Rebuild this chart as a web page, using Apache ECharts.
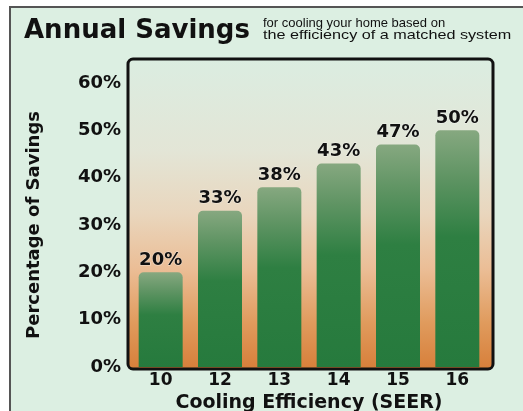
<!DOCTYPE html>
<html>
<head>
<meta charset="utf-8">
<script src="https://cdn.jsdelivr.net/npm/echarts@6/dist/echarts.min.js"></script>
<style>html,body{margin:0;padding:0;background:#fff;}#c{width:523px;height:411px;}</style>
</head>
<body>
<div id="c"></div>
<script>
const seerCategories = ['10', '12', '13', '14', '15', '16'];
const savingsPercent = [20, 33, 38, 43, 47, 50];
const yMin = 0, yMax = 60, yStep = 10;
const titleText = 'Annual Savings';
const subtitleLines = ['for cooling your home based on', 'the efficiency of a matched system'];
const xName = 'Cooling Efficiency (SEER)';
const yName = 'Percentage of Savings';

const F = 'DejaVu Sans';
const chart = echarts.init(document.getElementById('c'), null, {renderer: 'canvas'});
chart.setOption({
  animation: false,
  backgroundColor: '#ffffff',
  title: [
    {text: titleText, left: 19, top: 13,
     textStyle: {fontFamily: F, fontWeight: 'bold', fontSize: 26, color: '#111'}}
  ],
  graphic: [
    {type: 'rect', z: -20, shape: {x: 10, y: 7, width: 530, height: 420},
     style: {fill: '#dcefe2', stroke: '#555', lineWidth: 2}},
    {type: 'text', z: 50, x: 263, y: 23.5,
     style: {text: subtitleLines[0], font: '13px "Liberation Sans"', fill: '#111', align: 'left', verticalAlign: 'middle'}},
    {type: 'text', z: 50, x: 263, y: 35, scaleX: 1.2,
     style: {text: subtitleLines[1], font: '13.5px "Liberation Sans"', fill: '#111', align: 'left', verticalAlign: 'middle'}},
    {type: 'rect', z: -10, shape: {x: 128, y: 59, width: 365, height: 310, r: 5},
     style: {fill: new echarts.graphic.LinearGradient(0, 0, 0, 1, [
       {offset: 0, color: '#dbede1'},
       {offset: 0.3, color: '#e3e5d6'},
       {offset: 0.5, color: '#e9d6bd'},
       {offset: 0.68, color: '#ebbd95'},
       {offset: 0.85, color: '#e09b5d'},
       {offset: 1, color: '#d77f3a'}
     ])}},
    {type: 'rect', z: 100, shape: {x: 128, y: 59, width: 365, height: 310, r: 5},
     style: {fill: null, stroke: '#111', lineWidth: 3}}
  ],
  grid: {left: 131, right: 36, top: 83, bottom: 44, outerBoundsMode: 'none', containLabel: false},
  xAxis: {
    type: 'category', data: seerCategories,
    name: xName, nameLocation: 'middle', nameGap: 22,
    nameTextStyle: {fontFamily: F, fontWeight: 'bold', fontSize: 19, color: '#111'},
    axisLine: {show: false}, axisTick: {show: false},
    axisLabel: {margin: 5, fontFamily: F, fontWeight: 'bold', fontSize: 17, color: '#111'}
  },
  yAxis: {
    type: 'value', min: yMin, max: yMax, interval: yStep,
    name: yName, nameLocation: 'middle', nameGap: 88, nameRotate: 90,
    nameTextStyle: {fontFamily: F, fontWeight: 'bold', fontSize: 18, color: '#111'},
    axisLine: {show: false}, axisTick: {show: false}, splitLine: {show: false},
    axisLabel: {margin: 10, formatter: '{value}%', fontFamily: F, fontWeight: 'bold', fontSize: 18, color: '#111'}
  },
  series: [{
    type: 'bar', data: savingsPercent, barWidth: 44,
    itemStyle: {
      borderRadius: [5, 5, 0, 0],
      color: new echarts.graphic.LinearGradient(0, 0, 0, 1, [
        {offset: 0, color: '#86a880'},
        {offset: 0.2, color: '#5f9463'},
        {offset: 0.45, color: '#2e7f42'},
        {offset: 1, color: '#267a3d'}
      ])
    },
    label: {show: true, position: 'top', distance: 3, formatter: '{c}%',
      fontFamily: F, fontWeight: 'bold', fontSize: 18, color: '#111',
      textBorderColor: 'rgba(255,255,255,0.5)', textBorderWidth: 1}
  }]
});
</script>
</body>
</html>
